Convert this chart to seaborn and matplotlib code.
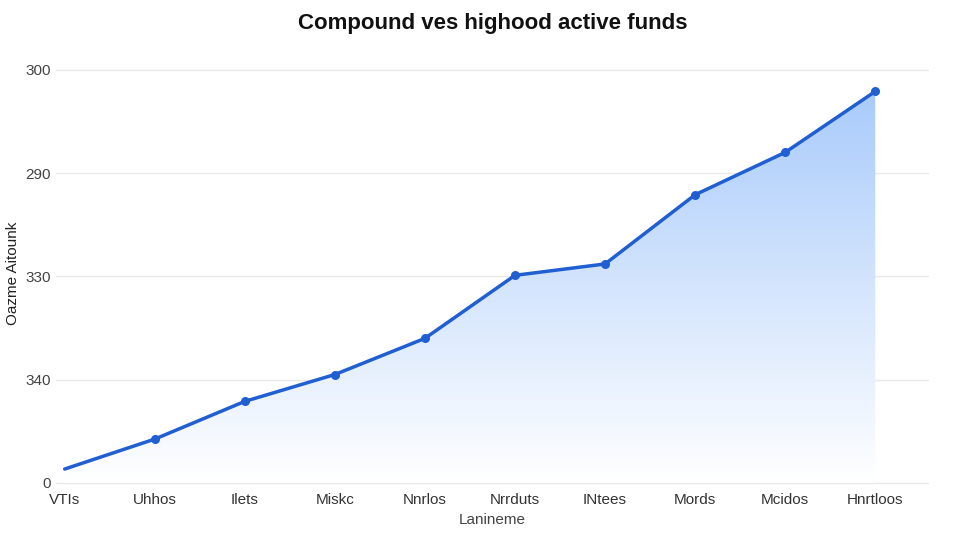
import matplotlib.pyplot as plt
import numpy as np
import seaborn as sns

months = ['VTIs', 'Uhhos', 'Ilets', 'Miskc', 'Nnrlos', 'Nrrduts', 'INtees', 'Mords', 'Mcidos', 'Hnrtloos']
values = [0.135, 0.425, 0.79, 1.05, 1.40, 2.01, 2.12, 2.79, 3.20, 3.79]
tick_pos = [0, 1, 2, 3, 4]
tick_labels = ['0', '340', '330', '290', '300']

sns.set_theme(style='white')
plt.rcParams['font.family'] = ['Liberation Sans', 'DejaVu Sans']

fig, ax = plt.subplots(figsize=(9.6, 5.4), dpi=100)
fig.subplots_adjust(left=0.058, right=0.968, top=0.89, bottom=0.096)

x = np.arange(len(months))
# gradient fill under the line
poly = ax.fill_between(x, values, 0, color='none')
grad = np.linspace(0, 1, 256).reshape(-1, 1)
img = ax.imshow(grad, extent=[x[0], x[-1], 0, max(values)], origin='lower', aspect='auto',
                cmap=sns.blend_palette(['#ffffff', '#a9cbfb'], as_cmap=True), zorder=1)
img.set_clip_path(poly.get_paths()[0], transform=ax.transData)

sns.lineplot(x=x, y=values, ax=ax, color='#1f5fd1', linewidth=2.5, zorder=3)
ax.scatter(x[1:], values[1:], color='#1f5fd1', s=30, zorder=4)

ax.set_xlim(-0.1, 9.6)
ax.set_ylim(-0.05, 4.1)
ax.set_yticks(tick_pos)
ax.set_yticklabels(tick_labels, color='#444444', fontsize=11)
ax.set_xticks(x)
ax.set_xticklabels(months, color='#333333', fontsize=11)
ax.yaxis.grid(True, color='#e8e8e8', linewidth=1)
ax.tick_params(length=0)
for s in ax.spines.values():
    s.set_visible(False)
ax.set_xlabel('Lanineme', color='#444444', fontsize=11)
ax.set_ylabel('Oazme Aitounk', color='#222222', fontsize=11)
ax.set_title('Compound ves highood active funds', fontsize=16, fontweight='semibold', pad=22, color='#111111')

fig.savefig('out.png')
